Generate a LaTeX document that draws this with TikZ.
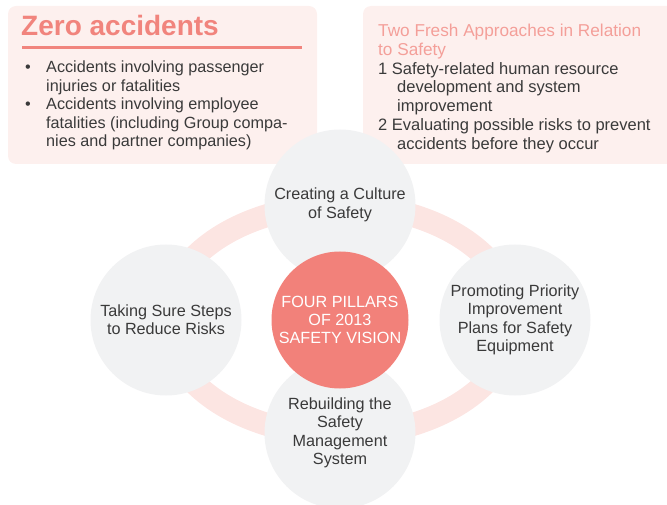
\documentclass[tikz,border=0pt]{standalone}
\usepackage{fontspec}
\setmainfont{Liberation Sans}
\usetikzlibrary{positioning}
\usepackage{xcolor}

\definecolor{titlepink}{HTML}{F1847D}
\definecolor{lightpink}{HTML}{F49F99}
\definecolor{boxpink}{HTML}{FDF0EE}
\definecolor{ringpink}{HTML}{FCE5E2}
\definecolor{pillargray}{HTML}{F1F2F3}
\definecolor{visionred}{HTML}{F2817A}
\definecolor{bodygray}{HTML}{3A3A3A}

\tikzset{
  body/.style={inner sep=0pt, anchor=base west, text=bodygray,
    font=\fontsize{16.2}{18.6}\selectfont},
  pillar/.style={circle, fill=pillargray, minimum size=151pt, inner sep=0pt,
    align=center, text=bodygray, font=\fontsize{16.2}{18.4}\selectfont},
  vision/.style={circle, fill=visionred, minimum size=137pt, inner sep=0pt,
    align=center, text=white, font=\fontsize{16.2}{18.4}\selectfont}
}

\begin{document}
\begin{tikzpicture}[x=1pt,y=-1pt]
\useasboundingbox (0,0) rectangle (667,505);

% boxes
{
\fill[boxpink, rounded corners=8pt] (8,6) rectangle (317,164);
\fill[boxpink, rounded corners=8pt] (363,6) rectangle (680,164);
}

% left box
\node[inner sep=0pt, anchor=base west, text=titlepink,
  font=\fontsize{28}{32}\selectfont\bfseries] (zero) at (21,36) {Zero accidents};
\draw[titlepink, line width=2.4pt] (22,47.5)--(302,47.5);

\node[body] (dot1) at (25,73) {\textbullet};
\node[body] (acc1a) at (46,73) {Accidents involving passenger};
\node[body] (acc1b) at (46,91.5) {injuries or fatalities};
\node[body] (dot2) at (25,109.7) {\textbullet};
\node[body] (acc2a) at (46,109.7) {Accidents involving employee};
\node[body] (acc2b) at (46,128.2) {fatalities (including Group compa-};
\node[body] (acc2c) at (46,146.7) {nies and partner companies)};

% right box
\node[body, text=lightpink, font=\fontsize{17.2}{19}\selectfont] (fresh1) at (378,36.7) {Two Fresh Approaches in Relation};
\node[body, text=lightpink, font=\fontsize{17.2}{19}\selectfont] (fresh2) at (378,55.5) {to Safety};
\node[body, font=\fontsize{16.5}{19}\selectfont] (app1a) at (378,74.3) {1 Safety-related human resource};
\node[body, font=\fontsize{16.5}{19}\selectfont] (app1b) at (397,93) {development and system};
\node[body, font=\fontsize{16.5}{19}\selectfont] (app1c) at (397,111.7) {improvement};
\node[body, font=\fontsize{16.5}{19}\selectfont] (app2a) at (378,130.5) {2 Evaluating possible risks to prevent};
\node[body, font=\fontsize{16.5}{19}\selectfont] (app2b) at (397,149.2) {accidents before they occur};

% ring
\draw[ringpink, line width=23pt] (340,320) ellipse [x radius=174, y radius=115];

% pillars
\node[pillar] (culture) at (340,205) {Creating a Culture\\of Safety};
\node[pillar] (steps) at (166,320) {Taking Sure Steps\\to Reduce Risks};
\node[pillar] (equip) at (515,320) {Promoting Priority\\Improvement\\Plans for Safety\\Equipment};
\node[pillar] (system) at (340,433) {Rebuilding the\\Safety\\Management\\System};

\node[vision] (vision) at (340,320) {FOUR PILLARS\\OF 2013\\SAFETY VISION};

\end{tikzpicture}
\end{document}
